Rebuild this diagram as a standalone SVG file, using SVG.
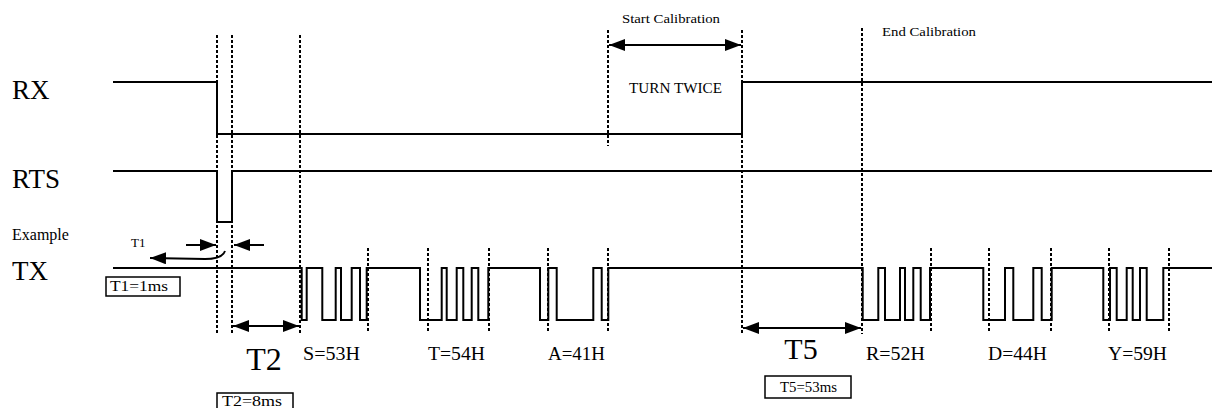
<svg xmlns="http://www.w3.org/2000/svg" width="1212" height="408" viewBox="0 0 1212 408">
<defs>
<marker id="ah" viewBox="0 0 16 12" refX="16" refY="6" markerWidth="16" markerHeight="12" markerUnits="userSpaceOnUse" orient="auto-start-reverse">
<path d="M0,0 L16,6 L0,12 Z" fill="#000"/>
</marker>
</defs>
<style>
.sig{fill:none;stroke:#000;stroke-width:2}
.dash{fill:none;stroke:#000;stroke-width:2;stroke-dasharray:3 2}
.arr{fill:none;stroke:#000;stroke-width:2}
.box{fill:#fff;stroke:#000;stroke-width:1.5}
text{font-family:"Liberation Serif","Times New Roman",serif;fill:#000}
.big{font-size:27px}
.mid{font-size:18px}
.sm{font-size:14px}
</style>
<rect width="1212" height="408" fill="#fff"/>
<g id="labels">
<text class="big" x="12" y="99">RX</text>
<text class="big" x="12" y="188">RTS</text>
<text x="12" y="240" font-size="16">Example</text>
<text class="big" x="12" y="280">TX</text>
</g>
<g id="guides">
<line class="dash" x1="217" y1="35" x2="217" y2="334"/>
<line class="dash" x1="232" y1="35" x2="232" y2="334"/>
<line class="dash" x1="300" y1="35" x2="300" y2="334"/>
<line class="dash" x1="608" y1="30" x2="608" y2="146"/>
<line class="dash" x1="742" y1="30" x2="742" y2="334"/>
<line class="dash" x1="862" y1="28" x2="862" y2="334"/>
<line class="dash" x1="368" y1="248" x2="368" y2="332"/>
<line class="dash" x1="428" y1="248" x2="428" y2="332"/>
<line class="dash" x1="489" y1="248" x2="489" y2="332"/>
<line class="dash" x1="548" y1="248" x2="548" y2="332"/>
<line class="dash" x1="608" y1="248" x2="608" y2="332"/>
<line class="dash" x1="931" y1="248" x2="931" y2="332"/>
<line class="dash" x1="989" y1="248" x2="989" y2="332"/>
<line class="dash" x1="1051" y1="248" x2="1051" y2="332"/>
<line class="dash" x1="1109" y1="248" x2="1109" y2="332"/>
<line class="dash" x1="1169" y1="248" x2="1169" y2="332"/>
</g>
<g id="rx">
<path class="sig" d="M113,82 H217 V134 H742 V82 H1212"/>
</g>
<g id="rts">
<path class="sig" d="M113,171 H217 V222 H232 V171 H1212"/>
</g>
<g id="tx">
<path class="sig" d="M113,268 H301.7 V320 H306.7 V268 H322.3 V320 H335.7 V268 H341 V320 H351.7 V268 H360 V320 H366.7 V268 H420 V320 H441.7 V268 H446.7 V320 H456.7 V268 H463.3 V320 H471.7 V268 H478.3 V320 H488.3 V268 H540 V320 H548.3 V268 H556.7 V320 H593.3 V268 H601.7 V320 H608.3 V268 H862.7 V320 H878.3 V268 H885 V320 H900 V268 H905 V320 H913.3 V268 H920.7 V320 H930 V268 H983.3 V320 H1005 V268 H1013.3 V320 H1033.3 V268 H1041.7 V320 H1051.7 V268 H1103.3 V320 H1110 V268 H1116.7 V320 H1126.7 V268 H1132.7 V320 H1140 V268 H1146.7 V320 H1163.3 V268 H1212"/>
</g>
<g id="connectors">
<line class="arr" x1="186" y1="245" x2="216" y2="245" marker-end="url(#ah)"/>
<line class="arr" x1="264" y1="245" x2="234" y2="245" marker-end="url(#ah)"/>
<path class="arr" d="M225,251 Q222,259 205,259 L150,258" marker-end="url(#ah)"/>
<line class="arr" x1="233" y1="326" x2="299" y2="326" marker-start="url(#ah)" marker-end="url(#ah)"/>
<line class="arr" x1="743" y1="328" x2="861" y2="328" marker-start="url(#ah)" marker-end="url(#ah)"/>
<line class="arr" x1="609" y1="45" x2="741" y2="45" marker-start="url(#ah)" marker-end="url(#ah)"/>
</g>
<g id="t1">
<text x="131" y="247" font-size="13">T1</text>
<rect class="box" x="106" y="277" width="74" height="19"/>
<text class="sm" x="110" y="291" textLength="58" lengthAdjust="spacingAndGlyphs">T1=1ms</text>
</g>
<g id="t2">
<text x="264" y="370" font-size="32" text-anchor="middle">T2</text>
<rect class="box" x="217" y="393" width="76" height="18"/>
<text class="sm" x="222" y="406" textLength="60" lengthAdjust="spacingAndGlyphs">T2=8ms</text>
</g>
<g id="t5">
<text x="801" y="359" font-size="30" text-anchor="middle">T5</text>
<rect class="box" x="765" y="376" width="86" height="22"/>
<text class="sm" x="780" y="392" textLength="57" lengthAdjust="spacingAndGlyphs">T5=53ms</text>
</g>
<g id="calib">
<text x="622" y="23" font-size="13" textLength="98" lengthAdjust="spacingAndGlyphs">Start Calibration</text>
<text x="629" y="93" font-size="14" textLength="93" lengthAdjust="spacingAndGlyphs">TURN TWICE</text>
<text x="882" y="36" font-size="13" textLength="94" lengthAdjust="spacingAndGlyphs">End Calibration</text>
</g>
<g id="chars">
<text class="mid" x="303" y="360" textLength="57" lengthAdjust="spacingAndGlyphs">S=53H</text>
<text class="mid" x="428" y="360" textLength="57" lengthAdjust="spacingAndGlyphs">T=54H</text>
<text class="mid" x="548" y="360" textLength="57" lengthAdjust="spacingAndGlyphs">A=41H</text>
<text class="mid" x="866" y="360" textLength="59" lengthAdjust="spacingAndGlyphs">R=52H</text>
<text class="mid" x="988" y="360" textLength="59" lengthAdjust="spacingAndGlyphs">D=44H</text>
<text class="mid" x="1108" y="360" textLength="59" lengthAdjust="spacingAndGlyphs">Y=59H</text>
</g>
</svg>
